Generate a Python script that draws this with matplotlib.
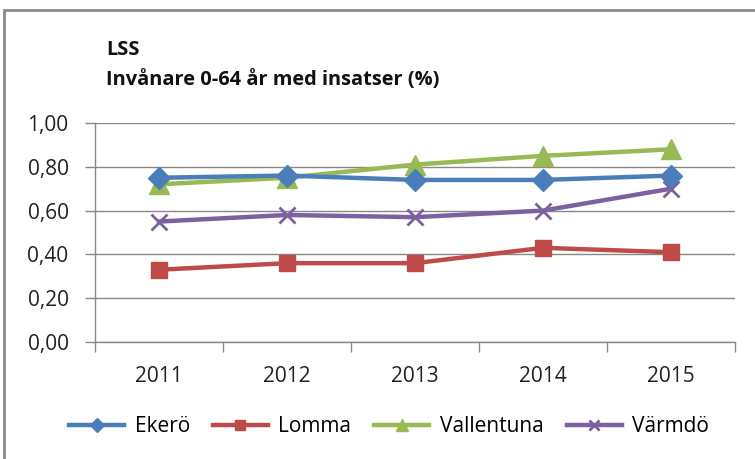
import matplotlib.pyplot as plt
from matplotlib.patches import Rectangle
from matplotlib.ticker import FuncFormatter, FixedLocator

plt.rcParams['font.family'] = ['Open Sans', 'DejaVu Sans']

years = ['2011', '2012', '2013', '2014', '2015']
ekero = [0.75, 0.76, 0.74, 0.74, 0.76]
lomma = [0.33, 0.36, 0.36, 0.43, 0.41]
vallentuna = [0.72, 0.75, 0.81, 0.85, 0.88]
varmdo = [0.55, 0.58, 0.57, 0.60, 0.70]

fig = plt.figure(figsize=(7.55, 4.59), dpi=100)
ax = fig.add_axes([95 / 755, 1 - 342 / 459, 640 / 755, 219 / 459])

x = list(range(len(years)))
lw = 3.2
ax.plot(x, ekero, color='#4A7EBB', lw=lw, marker='D', ms=11, label='Ekerö', zorder=4)
ax.plot(x, lomma, color='#BE4B48', lw=lw, marker='s', ms=12, label='Lomma', zorder=3)
ax.plot(x, vallentuna, color='#98B954', lw=lw, marker='^', ms=14, label='Vallentuna', zorder=3)
ax.plot(x, varmdo, color='#7D60A0', lw=lw, marker='x', ms=12, mew=2, label='Värmdö', zorder=3)

ax.set_xlim(-0.5, len(years) - 0.5)
ax.set_ylim(0, 1.0)
ax.set_yticks([0, 0.2, 0.4, 0.6, 0.8, 1.0])
ax.yaxis.set_major_formatter(FuncFormatter(lambda v, p: f'{v:.2f}'.replace('.', ',')))
ax.set_xticks(x)
ax.set_xticklabels(years)
ax.xaxis.set_minor_locator(FixedLocator([i - 0.5 for i in range(len(years) + 1)]))
ax.tick_params(axis='x', which='major', length=0, pad=17, labelsize=15, colors='#222222')
ax.tick_params(axis='x', which='minor', length=7, color='#888888', width=1)
ax.tick_params(axis='y', length=7, color='#888888', width=1, pad=12, labelsize=15, colors='#222222')
ax.grid(axis='y', color='#888888', lw=1)
ax.set_axisbelow(True)
for s in ['top', 'right']:
    ax.spines[s].set_visible(False)
for s in ['left', 'bottom']:
    ax.spines[s].set_color('#888888')
    ax.spines[s].set_linewidth(1)

fig.text(106 / 755, 1 - 50 / 459, 'LSS', fontsize=14.4, fontweight='bold', va='center', color='#111111')
fig.text(106 / 755, 1 - 80 / 459, 'Invånare 0-64 år med insatser (%)', fontsize=14.4,
         fontweight='bold', va='center', color='#111111')

fig.legend(loc='center', bbox_to_anchor=(389 / 755, 1 - 427 / 459), ncol=4, frameon=False,
           fontsize=15, handlelength=2.65, columnspacing=1.1, handletextpad=0.5,
           markerscale=0.65)

# frame around the chart area
fig.patches.append(Rectangle((4 / 755, -0.05), 1.1, 1 - 10 / 459 + 0.05,
                             transform=fig.transFigure, fill=False,
                             edgecolor='#8a8a8a', lw=2))

fig.savefig('out.png', dpi=100)
